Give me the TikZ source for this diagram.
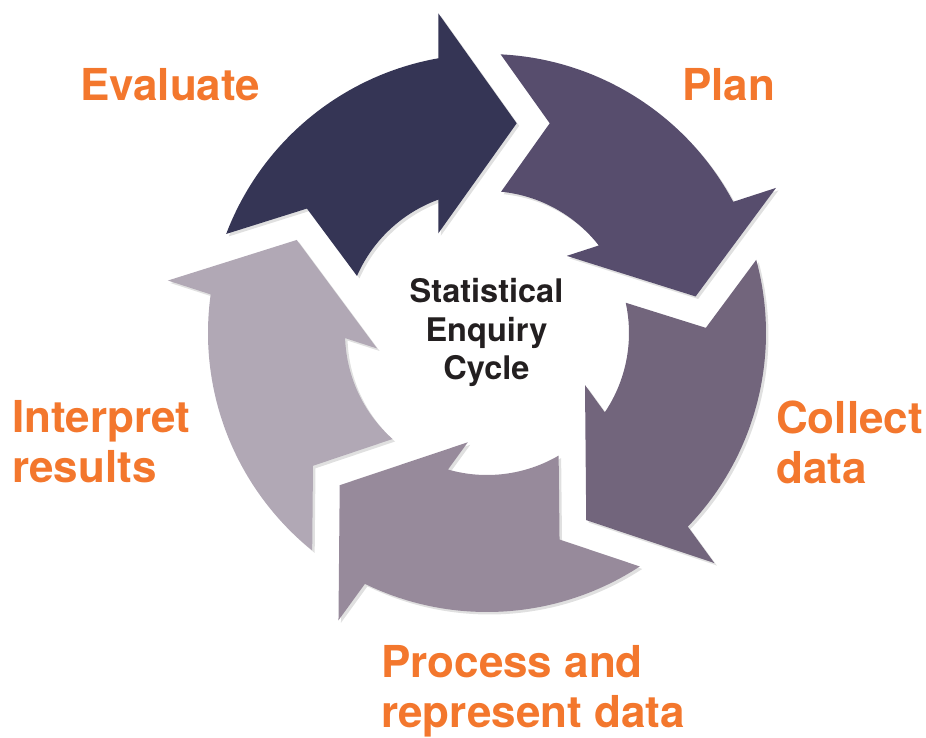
\documentclass[tikz,border=0pt]{standalone}
\usepackage{fontspec}
\setmainfont{TeX Gyre Heros}
\definecolor{cEval}{RGB}{53,53,85}
\definecolor{cPlan}{RGB}{87,77,109}
\definecolor{cColl}{RGB}{114,101,124}
\definecolor{cProc}{RGB}{151,138,155}
\definecolor{cInt}{RGB}{177,168,181}
\definecolor{lblorange}{RGB}{243,119,45}
\definecolor{ctrtext}{RGB}{35,31,32}
\tikzset{
  cyclearrow/.pic={
    \fill[pic actions] (159.2:279pt) arc[start angle=159.2,end angle=100.05,radius=279pt]
      -- (-48.7pt,319.7pt) -- (29.7pt,209.7pt) -- (-48.7pt,99.7pt)
      -- (110.05:142pt) arc[start angle=110.05,end angle=156.3,radius=142pt]
      -- (145.35:218.9pt) -- cycle;
  },
  arrowshadow/.style={shift={(2.5pt,-2.5pt)},fill=black,fill opacity=0.12},
  steplabel/.style={text=lblorange,font=\fontsize{44}{50}\selectfont\bfseries,align=left,inner sep=0pt},
  centertext/.style={text=ctrtext,font=\fontsize{32.5}{38.3}\selectfont\bfseries,align=center,inner sep=0pt}
}
\begin{document}
\begin{tikzpicture}[x=1pt,y=1pt]
\useasboundingbox (-487,-404) rectangle (439,333);
% shadows
\pic[arrowshadow,rotate=0] {cyclearrow};
\pic[arrowshadow,rotate=-72] {cyclearrow};
\pic[arrowshadow,rotate=-144] {cyclearrow};
\pic[arrowshadow,rotate=-216] {cyclearrow};
\pic[arrowshadow,rotate=-288] {cyclearrow};
% arrows
\pic (evaluatearrow) [fill=cEval,rotate=0] {cyclearrow};
\pic (planarrow) [fill=cPlan,rotate=-72] {cyclearrow};
\pic (collectarrow) [fill=cColl,rotate=-144] {cyclearrow};
\pic (processarrow) [fill=cProc,rotate=-216] {cyclearrow};
\pic (interpretarrow) [fill=cInt,rotate=-288] {cyclearrow};
% labels
\node[steplabel,anchor=base west] (evaluate) at (-407,233) {Evaluate};
\node[steplabel,anchor=base west] (plan) at (195,233) {Plan};
\node[steplabel,anchor=north west] (collect) at (289,-67.3) {Collect\\data};
\node[steplabel,anchor=north west] (interpret) at (-475,-67.3) {Interpret\\results};
\node[steplabel,anchor=north west] (process) at (-106,-312.3) {Process and\\represent data};
\node[centertext,anchor=north] (title) at (-0.5,54.7) {Statistical\\Enquiry\\Cycle};
\end{tikzpicture}
\end{document}
